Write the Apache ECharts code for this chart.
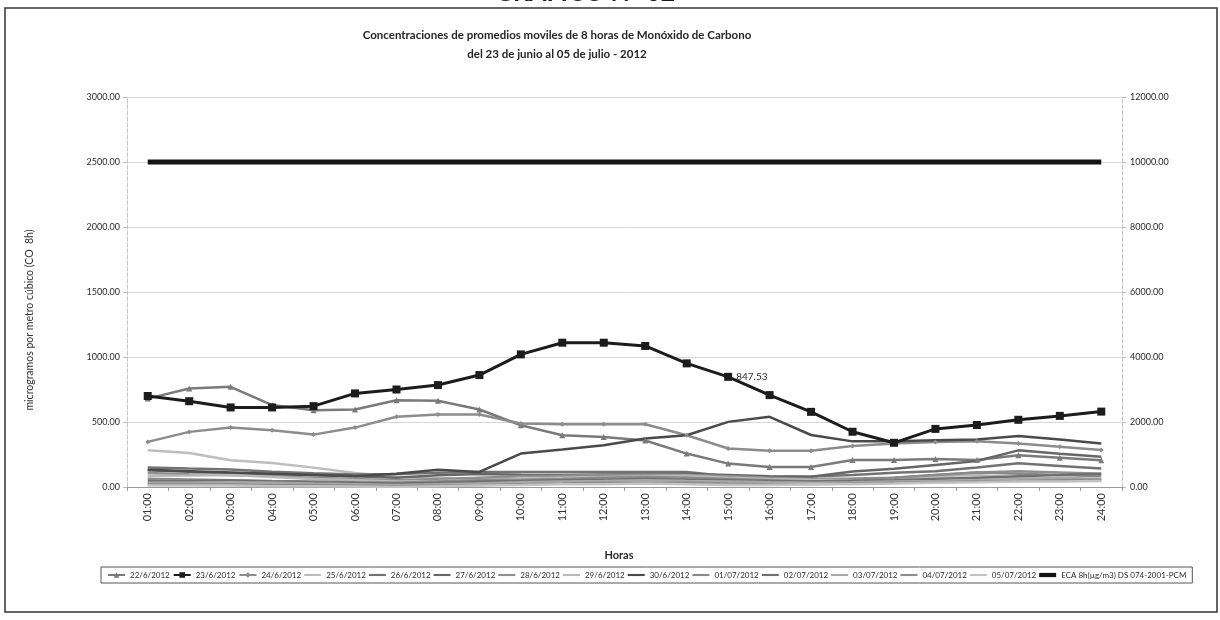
<!DOCTYPE html>
<html>
<head>
<meta charset="utf-8">
<script src="https://cdn.jsdelivr.net/npm/echarts@6/dist/echarts.min.js"></script>
<style>
  html, body { margin: 0; padding: 0; background: #ffffff; }
  #chart { width: 1220px; height: 620px; }
</style>
</head>
<body>
<div id="chart"></div>
<script>
// Hours of the day (8-hour moving averages)
const hours = ['01:00','02:00','03:00','04:00','05:00','06:00','07:00','08:00','09:00','10:00','11:00','12:00',
               '13:00','14:00','15:00','16:00','17:00','18:00','19:00','20:00','21:00','22:00','23:00','24:00'];

// CO 8h moving averages per day (µg/m3)
const d22_6 = [680,758,771,630,591,596,668,663,596,475,398,385,358,257,180,154,154,208,208,215,208,245,225,205];
const d23_6 = [700,660,612,612,622,720,750,784,861,1020,1110,1110,1085,951,847.53,707,578,425,340,447,477,517,547,580];
const d24_6 = [347,424,457,437,403,457,540,558,558,488,483,483,483,398,296,278,278,316,334,346,351,334,309,284];
const d25_6 = [283,262,206,185,149,108,80,70,62,55,52,55,58,62,66,60,55,62,68,72,64,58,52,48];
const d26_6 = [150,142,135,118,106,96,100,110,116,116,116,116,116,116,82,76,80,92,110,122,150,182,162,142];
const d27_6 = [128,118,108,98,92,82,72,90,100,95,92,96,100,100,92,82,78,120,140,170,200,282,256,232];
const d28_6 = [108,98,92,82,72,62,52,62,72,82,86,92,96,92,82,72,62,66,72,92,112,122,112,102];
const d29_6 = [86,88,92,76,62,52,42,46,52,62,72,76,82,86,72,62,56,52,62,82,92,72,62,52];
const d30_6 = [132,122,112,102,92,82,102,132,116,257,288,321,373,398,501,540,400,351,351,359,366,392,366,334];
const d01_07 = [64,58,52,46,42,36,32,42,52,56,62,72,76,72,62,52,42,52,72,92,112,102,92,82];
const d02_07 = [44,46,50,42,36,32,26,32,42,46,52,56,62,56,52,46,42,46,52,62,72,82,92,102];
const d03_07 = [32,32,36,32,26,22,16,22,26,36,42,46,52,46,42,36,32,36,42,46,52,62,72,62];
const d04_07 = [22,22,22,16,16,12,6,12,16,22,26,32,32,32,26,22,22,26,32,36,42,46,52,56];
const d05_07 = [12,12,12,6,6,3,0,6,12,16,22,22,26,22,16,16,22,22,26,32,36,42,42,46];

// Limit ECA 8h (µg/m3), plotted on the secondary axis
const eca = [10000,10000,10000,10000,10000,10000,10000,10000,10000,10000,10000,10000,
             10000,10000,10000,10000,10000,10000,10000,10000,10000,10000,10000,10000];

// Axis ticks
const leftAxis = { min: 0, max: 3000, step: 500 };
const rightAxis = { min: 0, max: 12000, step: 2000 };

// Points that carry a value label: [series name, hour index]
const labelledPoints = [['23/6/2012', 14], ['05/07/2012', 6]];

const FONT = "Lato, 'Open Sans', 'Liberation Sans', sans-serif";
const ECA_NAME = 'ECA 8h(µg/m3) DS 074-2001-PCM';

const dailySeries = [
  { name: '22/6/2012', data: d22_6, color: '#7a7a7a', symbol: 'triangle', size: 6, width: 2.5 },
  { name: '23/6/2012', data: d23_6, color: '#1c1c1c', symbol: 'rect', size: 8, width: 3 },
  { name: '24/6/2012', data: d24_6, color: '#8c8c8c', symbol: 'diamond', size: 5, width: 2.5 },
  { name: '25/6/2012', data: d25_6, color: '#bdbdbd', symbol: 'none', width: 2.5 },
  { name: '26/6/2012', data: d26_6, color: '#727272', symbol: 'none', width: 2.5 },
  { name: '27/6/2012', data: d27_6, color: '#666666', symbol: 'none', width: 2.5 },
  { name: '28/6/2012', data: d28_6, color: '#8e8e8e', symbol: 'none', width: 2.5 },
  { name: '29/6/2012', data: d29_6, color: '#b8b8b8', symbol: 'none', width: 2.5 },
  { name: '30/6/2012', data: d30_6, color: '#4a4a4a', symbol: 'none', width: 2.5 },
  { name: '01/07/2012', data: d01_07, color: '#8a8a8a', symbol: 'none', width: 2.5 },
  { name: '02/07/2012', data: d02_07, color: '#707070', symbol: 'none', width: 2.5 },
  { name: '03/07/2012', data: d03_07, color: '#a8a8a8', symbol: 'none', width: 2.5 },
  { name: '04/07/2012', data: d04_07, color: '#8c8c8c', symbol: 'none', width: 2.5 },
  { name: '05/07/2012', data: d05_07, color: '#c2c2c2', symbol: 'none', width: 2.5 }
];

function withLabels(name, values) {
  return values.map((v, i) => {
    const hit = labelledPoints.some(p => p[0] === name && p[1] === i);
    if (!hit) return v;
    return {
      value: v,
      label: {
        show: true, position: 'right', distance: 4,
        formatter: p => Number(p.value).toFixed(2),
        fontFamily: FONT, fontSize: 10, color: '#2a2a2a'
      }
    };
  });
}

const series = dailySeries.map(s => ({
  name: s.name,
  type: 'line',
  yAxisIndex: 0,
  data: withLabels(s.name, s.data),
  symbol: s.symbol,
  symbolSize: s.size || 0,
  showSymbol: s.symbol !== 'none',
  lineStyle: { color: s.color, width: s.width },
  itemStyle: { color: s.color },
  emphasis: { disabled: true },
  z: s.name === '23/6/2012' ? 5 : 3
}));

series.push({
  name: ECA_NAME,
  type: 'line',
  yAxisIndex: 1,
  data: eca,
  symbol: 'none',
  lineStyle: { color: '#141414', width: 5 },
  itemStyle: { color: '#141414' },
  emphasis: { disabled: true },
  z: 4
});

// Legend entries: plain lines get a bar icon, marked series keep line + marker
const legendData = dailySeries.map(s => s.symbol === 'none'
  ? { name: s.name, icon: 'path://M0,0h24v3h-24z' }
  : { name: s.name });
legendData.push({ name: ECA_NAME, icon: 'path://M0,0h20v5h-20z' });

const chart = echarts.init(document.getElementById('chart'), null, { renderer: 'canvas' });

chart.setOption({
  backgroundColor: '#ffffff',
  animation: false,
  textStyle: { fontFamily: FONT },
  title: {
    text: 'Concentraciones de promedios moviles de 8 horas de Monóxido de Carbono\ndel 23 de junio al 05 de julio - 2012',
    left: 552,
    top: 21,
    textAlign: 'center',
    textStyle: { fontFamily: FONT, fontSize: 11.5, fontWeight: 'bold', color: '#262626', lineHeight: 19 }
  },
  grid: { left: 127, right: 98, top: 97, bottom: 133 },
  legend: {
    left: 101,
    top: 567,
    width: 1112,
    padding: [4, 6, 4, 6],
    borderColor: '#555555',
    borderWidth: 1,
    itemWidth: 17,
    itemHeight: 7,
    itemGap: 3,
    textStyle: { fontFamily: FONT, fontSize: 8, color: '#2a2a2a' },
    data: legendData
  },
  xAxis: {
    type: 'category',
    data: hours,
    boundaryGap: true,
    axisLine: { lineStyle: { color: '#9a9a9a', width: 1 } },
    axisTick: { show: true, length: 4, lineStyle: { color: '#9a9a9a' } },
    axisLabel: { rotate: 90, margin: 6, fontFamily: FONT, fontSize: 11, color: '#333333' },
    splitLine: { show: false }
  },
  yAxis: [
    {
      type: 'value',
      min: leftAxis.min, max: leftAxis.max, interval: leftAxis.step,
      position: 'left',
      axisLine: { show: true, lineStyle: { color: '#c4c4c4', type: 'dashed' } },
      axisTick: { show: true, length: 4, lineStyle: { color: '#bbbbbb' } },
      axisLabel: { margin: 7, fontFamily: FONT, fontSize: 9, color: '#2a2a2a', formatter: v => v.toFixed(2) },
      splitLine: { show: true, lineStyle: { color: '#d6d6d6', width: 1 } }
    },
    {
      type: 'value',
      min: rightAxis.min, max: rightAxis.max, interval: rightAxis.step,
      position: 'right',
      axisLine: { show: true, lineStyle: { color: '#c4c4c4', type: 'dashed' } },
      axisTick: { show: true, length: 4, lineStyle: { color: '#bbbbbb' } },
      axisLabel: { margin: 8, fontFamily: FONT, fontSize: 9, color: '#2a2a2a', formatter: v => v.toFixed(2) },
      splitLine: { show: false }
    }
  ],
  graphic: [
    {
      type: 'text', x: 585, y: 5, z: 1,
      style: {
        text: 'GRAFICO N° 02', font: "bold 25px Lato, 'Liberation Sans', sans-serif",
        fill: '#1a1a1a', textAlign: 'center', textVerticalAlign: 'bottom'
      }
    },
    {
      type: 'rect', z: 2,
      shape: { x: 5, y: 8, width: 1212, height: 604 },
      style: { fill: 'none', stroke: '#333333', lineWidth: 1.5 }
    },
    {
      type: 'text', x: 30, y: 320, rotation: Math.PI / 2,
      style: {
        text: 'microgramos por metro cúbico (CO  8h)',
        font: "10.5px Lato, 'Liberation Sans', sans-serif",
        fill: '#333333', textAlign: 'center', textVerticalAlign: 'middle'
      }
    },
    {
      type: 'text', x: 619, y: 555,
      style: {
        text: 'Horas',
        font: "bold 11px Lato, 'Liberation Sans', sans-serif",
        fill: '#2a2a2a', textAlign: 'center', textVerticalAlign: 'middle'
      }
    }
  ],
  series: series
});
</script>
</body>
</html>
